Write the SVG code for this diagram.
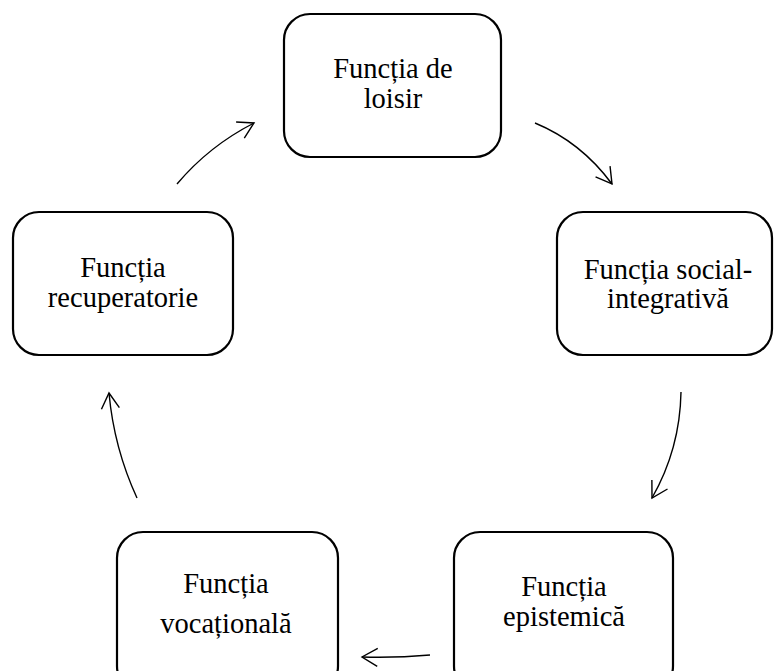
<svg xmlns="http://www.w3.org/2000/svg" width="774" height="671" viewBox="0 0 774 671">
<defs>
<style>
.box{fill:#fff;stroke:#000;stroke-width:2.2}
.lbl{font-family:"Liberation Serif","Times New Roman",serif;font-size:28.5px;fill:#000;text-anchor:middle}
.con{fill:none;stroke:#000;stroke-width:1.4}
</style>
<marker id="ah" markerUnits="userSpaceOnUse" viewBox="-20 -12 24 24" markerWidth="24" markerHeight="24" refX="0" refY="0" orient="auto" overflow="visible">
<path d="M-15.5,-9 L0,0 L-15.5,9" fill="none" stroke="#000" stroke-width="1.4"/>
</marker>
</defs>
<rect width="774" height="671" fill="#fff"/>
<g id="n-loisir">
<rect class="box" x="284" y="14" width="217" height="143" rx="26"/>
<text class="lbl" x="393" y="78">Funcția de</text>
<text class="lbl" x="393" y="108">loisir</text>
</g>
<g id="n-social">
<rect class="box" x="557" y="212" width="215" height="143" rx="26"/>
<text class="lbl" x="668" y="279">Funcția social-</text>
<text class="lbl" x="668" y="308">integrativă</text>
</g>
<g id="n-epistemica">
<rect class="box" x="454" y="532" width="219" height="160" rx="26"/>
<text class="lbl" x="564" y="596">Funcția</text>
<text class="lbl" x="564" y="626">epistemică</text>
</g>
<g id="n-vocationala">
<rect class="box" x="117" y="532" width="221" height="160" rx="26"/>
<text class="lbl" x="226" y="593">Funcția</text>
<text class="lbl" x="226" y="633">vocațională</text>
</g>
<g id="n-recuperatorie">
<rect class="box" x="13" y="212" width="220" height="143" rx="26"/>
<text class="lbl" x="123" y="277">Funcția</text>
<text class="lbl" x="123" y="307">recuperatorie</text>
</g>
<g id="connectors">
<path class="con" marker-end="url(#ah)" d="M535,123 Q581,142 612,184"/>
<path class="con" marker-end="url(#ah)" d="M681,392 Q680,449 652,498"/>
<path class="con" marker-end="url(#ah)" d="M430,655 Q396,658 362,657"/>
<path class="con" marker-end="url(#ah)" d="M137,498 Q114,448 109,393"/>
<path class="con" marker-end="url(#ah)" d="M177,184 Q209,146 254,123"/>
</g>
</svg>
